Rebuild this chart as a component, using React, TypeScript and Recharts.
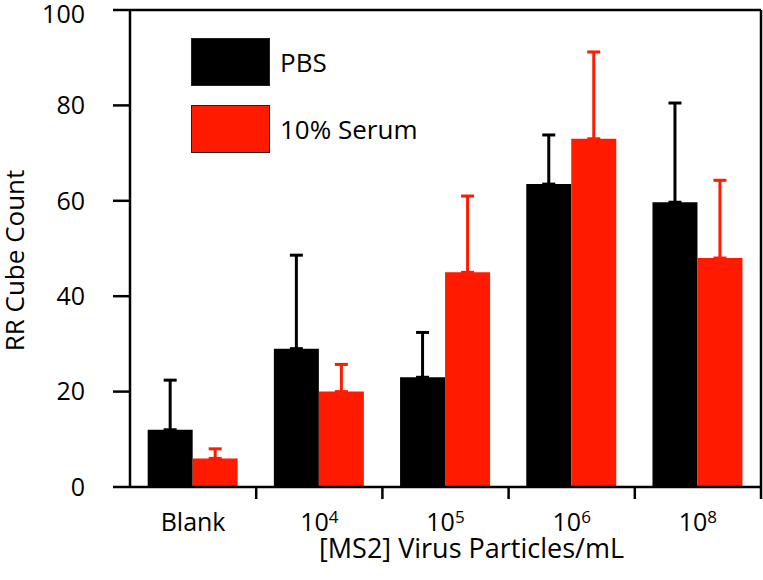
import {
  BarChart,
  Bar,
  XAxis,
  YAxis,
  ErrorBar,
  Legend,
} from 'recharts';

// [MS2] concentration groups; "^" marks a superscript exponent
const categories = ['Blank', '10^4', '10^5', '10^6', '10^8'];
const pbsCounts = [12, 29, 23, 63.5, 59.7];
const pbsErrors = [10.4, 19.6, 9.4, 10.3, 20.8];
const serumCounts = [6, 20, 45, 73, 48];
const serumErrors = [2, 5.7, 16, 18.2, 16.3];
const yTicks = [0, 20, 40, 60, 80, 100];

const seriesNames = ['PBS', '10% Serum'];
const seriesColors = ['#000000', '#ff1a00'];

const FONT = '"Open Sans", sans-serif';
const X_TICK_MARGIN = 26;
const X_TICK_LEN = 12;

const data = categories.map((name, i) => ({
  name,
  pbs: pbsCounts[i],
  pbsErr: [0, pbsErrors[i]],
  serum: serumCounts[i],
  serumErr: [0, serumErrors[i]],
}));

// label centred on the group, tick mark on the group's right boundary
const CategoryTick = ({ x, y, payload }: any) => {
  const [base, exp] = String(payload.value).split('^');
  const axisY = y - X_TICK_MARGIN;
  const bx = x + (payload.offset || 0);
  return (
    <g>
      <line x1={bx} x2={bx} y1={axisY} y2={axisY + X_TICK_LEN} stroke="#000" strokeWidth={2.5} />
      <text x={x} y={y} textAnchor="middle" fontSize={25} fill="#000" fontFamily={FONT}>
        <tspan dy="0.71em">{base}</tspan>
        {exp && (
          <tspan fontSize={17} dy={-8}>
            {exp}
          </tspan>
        )}
      </text>
    </g>
  );
};

const LegendBox = () => (
  <div style={{ fontFamily: FONT, fontSize: 26, color: '#000' }}>
    {seriesNames.map((n, i) => (
      <div key={n} style={{ display: 'flex', alignItems: 'center', marginBottom: 19 }}>
        <div
          style={{
            width: 79,
            height: 48,
            background: seriesColors[i],
            border: '1px solid #222',
            boxSizing: 'border-box',
            marginRight: 10,
          }}
        />
        <span>{n}</span>
      </div>
    ))}
  </div>
);

export default function App() {
  return (
    <div style={{ width: 763, height: 580, background: '#fff' }}>
      <style>{`body{margin:0}`}</style>
      <BarChart
        width={763}
        height={580}
        data={data}
        margin={{ top: 9, right: 1, left: 0, bottom: 0 }}
        barCategoryGap="14%"
        barGap={0}
      >
        <XAxis
          dataKey="name"
          height={93}
          interval={0}
          axisLine={{ stroke: '#000', strokeWidth: 2.5 }}
          tickLine={false}
          tickSize={0}
          tickMargin={X_TICK_MARGIN}
          tick={<CategoryTick />}
          label={({ viewBox }: any) => (
            <text
              x={viewBox.x + viewBox.width / 2 + 26}
              y={viewBox.y + 71}
              textAnchor="middle"
              fontSize={27}
              fontFamily={FONT}
              fill="#000"
            >
              [MS2] Virus Particles/mL
            </text>
          )}
        />
        <XAxis
          xAxisId="top"
          orientation="top"
          dataKey="name"
          height={1}
          tick={false}
          tickLine={false}
          axisLine={{ stroke: '#000', strokeWidth: 2.5 }}
        />
        <YAxis
          width={130}
          domain={[0, 100]}
          ticks={yTicks}
          tickSize={17}
          tickMargin={28}
          axisLine={{ stroke: '#000', strokeWidth: 2.5 }}
          tickLine={{ stroke: '#000', strokeWidth: 2.5 }}
          tick={{ fill: '#000', fontSize: 25, fontFamily: FONT }}
          label={({ viewBox }: any) => {
            const cx = viewBox.x + 14;
            const cy = viewBox.y + viewBox.height / 2 + 12;
            return (
              <text
                x={cx}
                y={cy}
                transform={`rotate(-90, ${cx}, ${cy})`}
                textAnchor="middle"
                dominantBaseline="central"
                fontSize={26}
                fontFamily={FONT}
                fill="#000"
              >
                RR Cube Count
              </text>
            );
          }}
        />
        <YAxis
          yAxisId="right"
          orientation="right"
          width={1}
          domain={[0, 100]}
          tick={false}
          tickLine={false}
          axisLine={{ stroke: '#000', strokeWidth: 2.5 }}
        />
        <Legend
          layout="vertical"
          align="center"
          verticalAlign="middle"
          content={<LegendBox />}
          wrapperStyle={{ top: 38, left: 191, width: 'auto', height: 'auto' }}
        />
        <Bar dataKey="pbs" name={seriesNames[0]} fill={seriesColors[0]} isAnimationActive={false}>
          <ErrorBar dataKey="pbsErr" direction="y" width={6.5} stroke={seriesColors[0]} strokeWidth={3} />
        </Bar>
        <Bar dataKey="serum" name={seriesNames[1]} fill={seriesColors[1]} isAnimationActive={false}>
          <ErrorBar dataKey="serumErr" direction="y" width={6.5} stroke={seriesColors[1]} strokeWidth={3} />
        </Bar>
      </BarChart>
    </div>
  );
}
